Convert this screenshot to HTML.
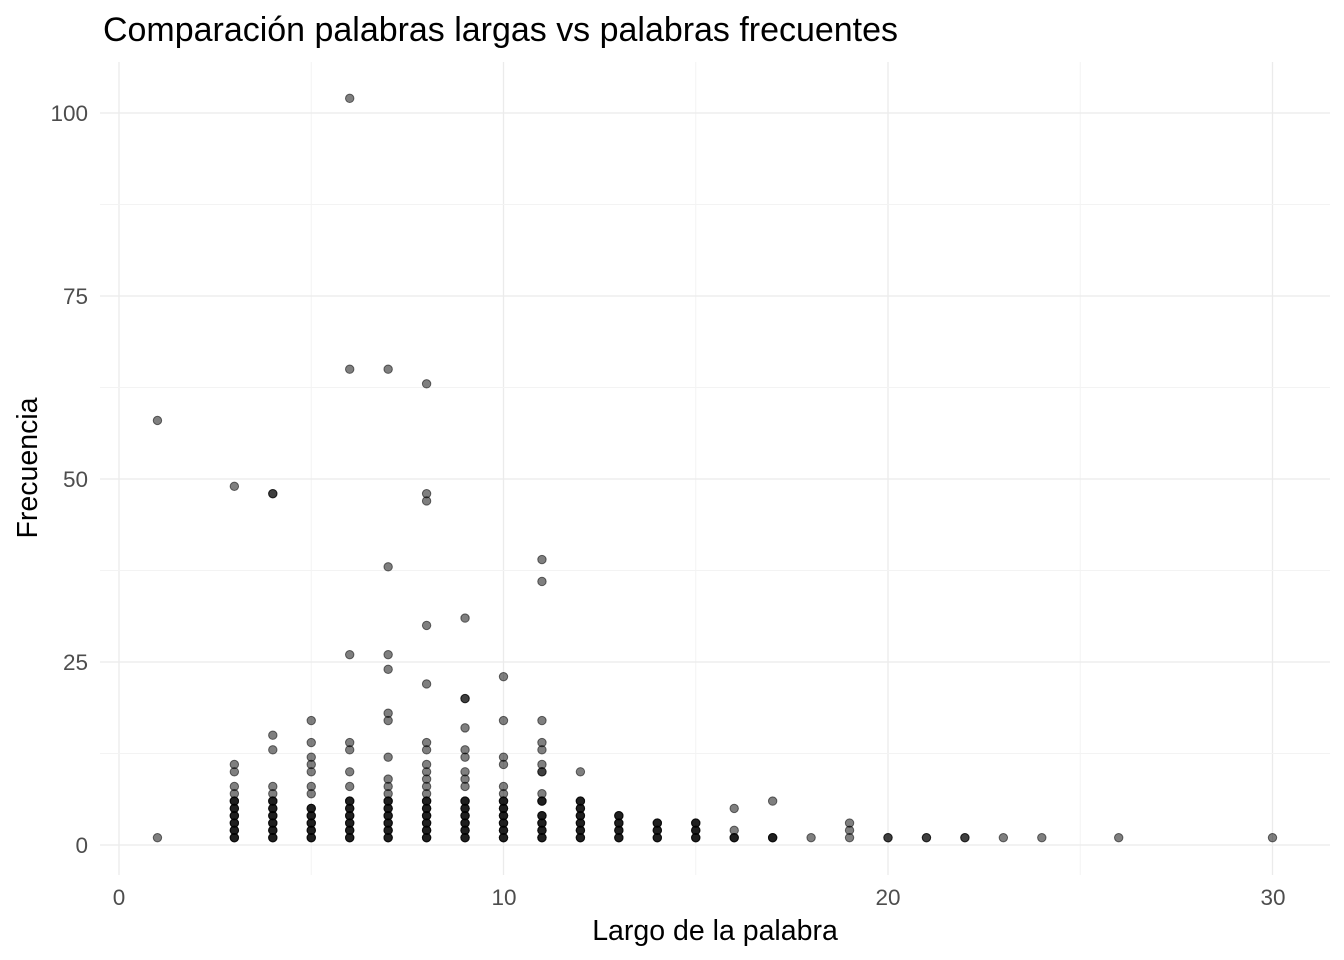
<!DOCTYPE html>
<html><head><meta charset="utf-8"><style>
html,body{margin:0;padding:0;background:#fff;}
svg{display:block;font-family:"Liberation Sans",Arial,sans-serif;}
</style></head><body>
<svg id="s" width="1344" height="960" viewBox="0 0 1344 960">
<rect width="1344" height="960" fill="#fff"/>
<g id="grid"></g>
<g id="pts"></g>
<text x="103" y="41" font-size="34" fill="#000" textLength="795" lengthAdjust="spacingAndGlyphs">Comparación palabras largas vs palabras frecuentes</text>
<g font-size="22.5" fill="#4d4d4d" text-anchor="end">
<text x="88" y="853">0</text>
<text x="88" y="670">25</text>
<text x="88" y="487">50</text>
<text x="88" y="304">75</text>
<text x="88" y="121">100</text>
</g>
<g font-size="22.5" fill="#4d4d4d" text-anchor="middle">
<text x="119" y="905">0</text>
<text x="504" y="905">10</text>
<text x="888" y="905">20</text>
<text x="1273" y="905">30</text>
</g>
<text x="715" y="940" font-size="28.5" text-anchor="middle" fill="#000">Largo de la palabra</text>
<text transform="translate(37,468) rotate(-90)" font-size="28.5" text-anchor="middle" fill="#000">Frecuencia</text>
</svg>
<script>
var X=function(v){return 119+v*38.45;},Y=function(v){return 845-v*7.32;};
var g=document.getElementById('grid'),h='';
for(var v=0;v<=30;v+=5){h+='<line x1="'+X(v)+'" x2="'+X(v)+'" y1="62" y2="875" stroke="'+(v%10?'#f3f3f3':'#ebebeb')+'" stroke-width="'+(v%10?1:1.3)+'"/>';}
for(var v=0;v<=100;v+=12.5){h+='<line y1="'+Y(v)+'" y2="'+Y(v)+'" x1="100" x2="1330" stroke="'+(v%25?'#f3f3f3':'#ebebeb')+'" stroke-width="'+(v%25?1:1.3)+'"/>';}
g.innerHTML=h;
var d={1:[58,1],3:[49,11,10,8,7,6,5,4,3,2,1],4:[48,48,15,13,8,7,6,5,4,3,2,1],5:[17,14,12,11,10,8,7,5,4,3,2,1],
6:[102,65,26,14,13,10,8,6,5,4,3,2,1],7:[65,38,26,24,18,17,12,9,8,7,6,5,4,3,2,1],
8:[63,48,47,30,22,14,13,11,10,9,8,7,6,5,4,3,2,1],9:[31,20,20,16,13,12,10,9,8,6,5,4,3,2,1],
10:[23,17,12,11,8,7,6,5,4,3,2,1],11:[39,36,17,14,13,11,10,10,7,6,4,3,2,1],12:[10,6,5,4,3,2,1],
13:[4,3,2,1],14:[3,2,1],15:[3,2,1],16:[5,2,1],17:[6,1],18:[1],19:[3,2,1],20:[1,1],21:[1,1],22:[1,1],23:[1],24:[1],26:[1],30:[1]};
var p='';
for(var k in d){var kk=+k;d[k].forEach(function(y){var n=1;if(kk>=3&&kk<=15&&y<=6)n=3;if(kk>=16&&kk<=17&&y==1)n=3;for(var i=0;i<n;i++)p+='<circle cx="'+X(kk)+'" cy="'+Y(y)+'" r="4.2" fill="rgba(0,0,0,0.5)" stroke="rgba(0,0,0,0.55)" stroke-width="1"/>';});}
document.getElementById('pts').innerHTML=p;
</script>
</body></html>
